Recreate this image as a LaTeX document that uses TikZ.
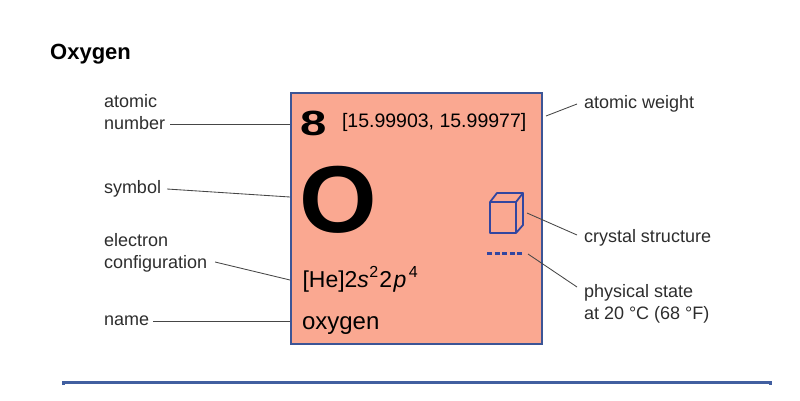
\documentclass[tikz,border=0pt]{standalone}
\usepackage{fontspec}
\setmainfont{Liberation Sans}
\definecolor{salmon}{RGB}{250,168,145}
\definecolor{boxblue}{RGB}{60,85,150}
\definecolor{cubeblue}{RGB}{50,70,160}
\definecolor{rulecol}{RGB}{65,95,160}
\definecolor{labelgray}{RGB}{45,45,45}
\definecolor{linegray}{RGB}{70,70,70}
\begin{document}
\begin{tikzpicture}[x=1pt,y=-1pt,
  lbl/.style={anchor=base west, inner sep=0pt, outer sep=0pt, text=labelgray,
    font=\fontsize{18}{21.5}\selectfont, align=left},
  conn/.style={draw=linegray, line width=0.85pt},
  cardtext/.style={anchor=base west, inner sep=0pt, outer sep=0pt, text=black}]
\useasboundingbox (0,0) rectangle (800,400);
% title
\node[anchor=base west, inner sep=0pt, font=\bfseries\fontsize{22}{26}\selectfont] (title) at (50,59) {Oxygen};
% card
\node[draw=boxblue, line width=2pt, fill=salmon, minimum width=251pt, minimum height=251pt,
  inner sep=0pt, anchor=north west] (card) at (290,92) {};
\node[cardtext, font=\bfseries\fontsize{35}{35}\selectfont] (num) at (300.5,135) {\scalebox{1.35}[1]{8}};
\node[cardtext, font=\fontsize{19.5}{22}\selectfont] (wt) at (342,127) {[15.99903, 15.99977]};
\node[cardtext, font=\bfseries\fontsize{95}{95}\selectfont] (sym) at (299,232) {\scalebox{1.05}[1]{O}};
\node[cardtext, font=\fontsize{23}{27}\selectfont] (conf) at (302.5,287)
  {[He]2\textit{s}\hspace{0.5pt}\raisebox{10pt}{\fontsize{16}{16}\selectfont 2}\hspace{1pt}2\hspace{1.5pt}\textit{p}\hspace{2.5pt}\raisebox{10pt}{\fontsize{16}{16}\selectfont 4}};
\node[cardtext, font=\fontsize{24}{28}\selectfont] (nm) at (302,329) {oxygen};
% cube icon
\draw[cubeblue, line width=1.8pt, line join=round]
  (490,202) rectangle (516,233)
  (490,202) -- (497,193) -- (523,193) -- (516,202)
  (523,193) -- (523,225) -- (516,233);
\coordinate (cubept) at (527,213);
% physical state dashes
\draw[cubeblue, line width=3pt, dash pattern=on 5pt off 2.6pt] (487,253) -- (524,253);
\coordinate (dashpt) at (528,254);
% left labels
\node[lbl] (lnum) at (104,129) {atomic\\number};
\node[lbl] (lsym) at (104,193) {symbol};
\node[lbl] (lconf) at (104,268) {electron\\configuration};
\node[lbl] (lname) at (104,325) {name};
% right labels
\node[lbl] (lwt) at (584,108) {atomic weight};
\node[lbl] (lcry) at (584,242) {crystal structure};
\node[lbl] (lphys) at (584,319) {physical state\\at 20 °C (68 °F)};
% connectors
\draw[conn] ([shift={(5,-5)}]lnum.base east) -- ([yshift=-32pt]card.north west);
\draw[conn] ([shift={(6,-4)}]lsym.base east) -- ([yshift=-105pt]card.north west);
\draw[conn] ([shift={(8,-6)}]lconf.base east) -- ([yshift=-188pt]card.north west);
\draw[conn] ([shift={(4,-4)}]lname.base east) -- ([yshift=-229pt]card.north west);
\draw[conn] ([shift={(3,-24pt)}]card.north east) -- ([shift={(-7,-4)}]lwt.base west);
\draw[conn] (cubept) -- ([shift={(-7,-7)}]lcry.base west);
\draw[conn] (dashpt) -- ([shift={(-7,-32)}]lphys.base west);
% bottom rule
\draw[rulecol, line width=3pt] (63,385) -- (63,382) -- (770,382) -- (770,385);
\end{tikzpicture}
\end{document}
